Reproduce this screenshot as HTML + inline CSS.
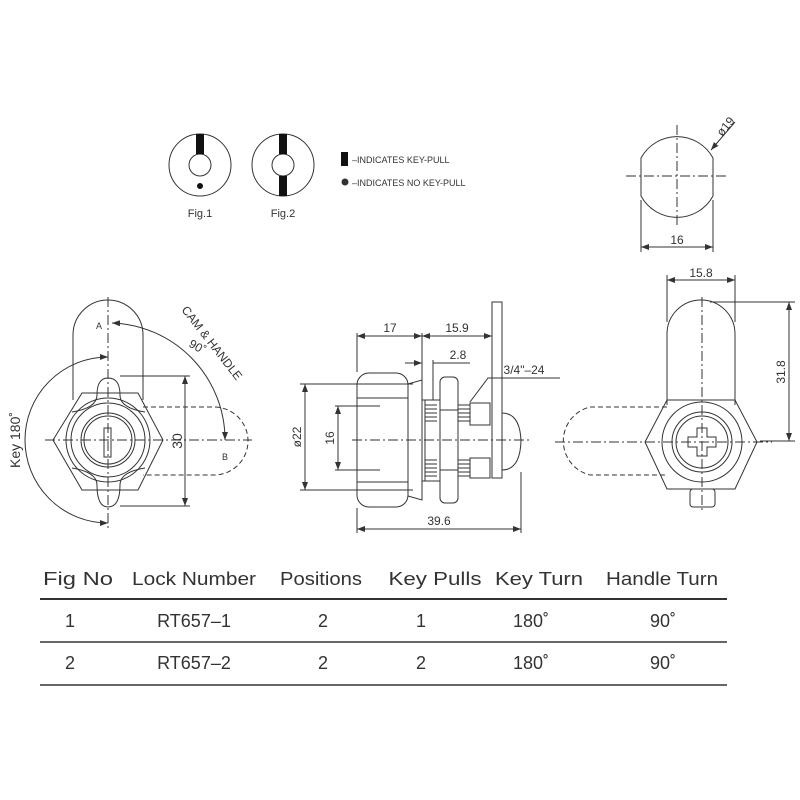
<!DOCTYPE html>
<html><head><meta charset="utf-8"><style>
html,body{margin:0;padding:0;background:#fff;}
svg{display:block;}
text{font-family:"Liberation Sans",sans-serif;fill:#333;}
</style></head><body>
<svg width="800" height="800" viewBox="0 0 800 800" xmlns="http://www.w3.org/2000/svg">
<defs>
<marker id="ar" markerWidth="8" markerHeight="6" refX="8" refY="3" orient="auto-start-reverse" markerUnits="userSpaceOnUse"><path d="M0,0 L8,3 L0,6 z" fill="#333"/></marker>
</defs>
<g fill="none" stroke="#333" stroke-width="1">
<!-- Fig1 -->
<circle cx="200" cy="165" r="31"/><circle cx="200" cy="165" r="11"/>
<rect x="196" y="134" width="8" height="20" fill="#111" stroke="none"/>
<circle cx="200" cy="186" r="3" fill="#111" stroke="none"/>
<!-- Fig2 -->
<circle cx="283" cy="165" r="31"/><circle cx="283" cy="165" r="11"/>
<rect x="279" y="134" width="8" height="20" fill="#111" stroke="none"/>
<rect x="279" y="176" width="8" height="20" fill="#111" stroke="none"/>
<rect x="341" y="152" width="7" height="14" fill="#111" stroke="none"/>
<circle cx="345" cy="182" r="3.5" fill="#333" stroke="none"/>

<!-- top right -->
<path d="M641,158 A41,41 0 0 1 713,158 L713,196 A41,41 0 0 1 641,196 Z"/>
<path d="M626,176 H728 M677,125 V228" stroke-dasharray="10,3,2,3"/>
<path d="M641,200 V252 M713,200 V252"/>
<path d="M641,247 H713" marker-start="url(#ar)" marker-end="url(#ar)"/>
<path d="M735,122 L711,150" marker-end="url(#ar)"/>

<!-- left view -->
<path d="M73,400 V335 A35,35 0 0 1 143,335 V400"/>
<path d="M53,440 L82,393 H138 L163,440 L138,490 H82 Z"/>
<circle cx="108" cy="440" r="42"/>
<circle cx="108" cy="440" r="37"/>
<circle cx="108" cy="440" r="27"/>
<circle cx="108" cy="440" r="24"/>
<path d="M97,395 Q97,378 108,378 Q120,378 120,395 Q120,408 145,412 M97,395 Q97,408 72,412 M97,485 Q97,507 108,507 Q120,507 120,485 Q120,472 145,468 M97,485 Q97,472 72,468"/>
<rect x="104" y="428" width="7" height="29"/>
<path d="M143,407 H214 A34,34 0 0 1 214,475 H143" stroke-dasharray="5,3"/>
<path d="M108,297 V528 M45,440 H252" stroke-dasharray="10,3,2,3"/>
<path d="M120,376 H190 M120,506 H190"/>
<path d="M185,376 V506" marker-start="url(#ar)" marker-end="url(#ar)"/>
<path d="M112,323 A117,117 0 0 1 225,440" marker-start="url(#ar)" marker-end="url(#ar)"/>
<path d="M108,357 A83,83 0 0 0 108,523" marker-start="url(#ar)" marker-end="url(#ar)"/>

<!-- middle view -->
<rect x="357" y="373" width="51" height="134" rx="12"/>
<path d="M357,398 H408 M357,482 H408"/>
<path d="M408,384 L422,380 V500 L408,496 Z"/>
<path d="M422,400 H440 M422,481 H440 M425,400 V481"/>
<path d="M425,405 h12 M425,409 h12 M425,413 h12 M425,417 h12 M425,421 h12 M425,460 h12 M425,464 h12 M425,468 h12 M425,472 h12 M425,476 h12"/>
<rect x="440" y="377" width="18" height="126" rx="5"/>
<path d="M440,410 H458 M440,470 H458"/>
<path d="M458,405 h12 M458,409 h12 M458,413 h12 M458,417 h12 M458,421 h12 M458,460 h12 M458,464 h12 M458,468 h12 M458,472 h12 M458,476 h12"/>
<path d="M470,403 H490 V425 H470 Z M470,458 H490 V478 H470 Z"/>
<rect x="492" y="302" width="10" height="176"/>
<path d="M502,413 Q520,413 521,441 Q520,470 502,470"/>
<path d="M352,440 H530" stroke-dasharray="10,3,2,3"/>
<path d="M357,333 V372 M422,333 V380 M492,333 V302 M433,360 V400"/>
<path d="M357,336 H422" marker-start="url(#ar)" marker-end="url(#ar)"/>
<path d="M422,336 H492" marker-start="url(#ar)" marker-end="url(#ar)"/>
<path d="M405,363 H422" marker-end="url(#ar)"/>
<path d="M433,363 H470"/>
<path d="M300,384 H413 M300,490 H413"/>
<path d="M305,384 V490" marker-start="url(#ar)" marker-end="url(#ar)"/>
<path d="M335,406 H380 M335,470 H380"/>
<path d="M338,406 V470" marker-start="url(#ar)" marker-end="url(#ar)"/>
<path d="M357,508 V533 M521,472 V533"/>
<path d="M357,529 H521" marker-start="url(#ar)" marker-end="url(#ar)"/>
<path d="M560,378 H488 L470,402"/>

<!-- right view -->
<path d="M667,405 V334 A34,34 0 0 1 735,334 V405"/>
<path d="M645,442 L667,400 H735 L757,442 L735,489 H667 Z"/>
<circle cx="702" cy="442" r="40"/>
<circle cx="702" cy="442" r="30"/>
<circle cx="702" cy="442" r="26"/>
<path d="M697,428 h10 v9 h9 v10 h-9 v9 h-10 v-9 h-9 v-10 h9 z"/>
<rect x="690" y="489" width="25" height="18" rx="3"/>
<path d="M667,407 H590 A35,35 0 0 0 590,475 H667" stroke-dasharray="5,3"/>
<path d="M702,297 V512 M555,442 H772" stroke-dasharray="10,3,2,3"/>
<path d="M667,275 V322 M735,275 V322"/>
<path d="M667,280 H735" marker-start="url(#ar)" marker-end="url(#ar)"/>
<path d="M710,302 H795 M760,441 H795"/>
<path d="M789,302 V441" marker-start="url(#ar)" marker-end="url(#ar)"/>

<!-- table lines -->
<path d="M40,599 H727" stroke-width="2"/>
<path d="M40,642 H727" stroke-width="1.5"/>
<path d="M40,685 H727" stroke-width="1.5"/>
</g>

<g font-size="11">
<text x="200" y="217" text-anchor="middle">Fig.1</text>
<text x="283" y="217" text-anchor="middle">Fig.2</text>
</g>
<g font-size="9">
<text x="352" y="163">–INDICATES KEY-PULL</text>
<text x="352" y="186">–INDICATES NO KEY-PULL</text>
<text x="96" y="329">A</text>
<text x="222" y="460">B</text>
</g>
<g font-size="12">
<text transform="translate(181,310) rotate(52)">CAM &amp; HANDLE</text>
<text transform="translate(188,346) rotate(30)">90˚</text>
<text x="677" y="244" text-anchor="middle">16</text>
<text transform="translate(722,137) rotate(-50)">ø19</text>
<text transform="translate(20,440) rotate(-90)" text-anchor="middle" font-size="14">Key 180˚</text>
<text transform="translate(182,441) rotate(-90)" text-anchor="middle" font-size="14">30</text>
<text x="390" y="332" text-anchor="middle">17</text>
<text x="457" y="332" text-anchor="middle">15.9</text>
<text x="458" y="359" text-anchor="middle">2.8</text>
<text x="524" y="374" text-anchor="middle">3/4"–24</text>
<text transform="translate(301,437) rotate(-90)" text-anchor="middle">ø22</text>
<text transform="translate(334,438) rotate(-90)" text-anchor="middle">16</text>
<text x="439" y="525" text-anchor="middle">39.6</text>
<text x="701" y="277" text-anchor="middle">15.8</text>
<text transform="translate(785,372) rotate(-90)" text-anchor="middle">31.8</text>
</g>
<g font-size="18" text-anchor="middle">
<text x="78" y="585" textLength="70" lengthAdjust="spacingAndGlyphs">Fig No</text>
<text x="194" y="585" textLength="124" lengthAdjust="spacingAndGlyphs">Lock Number</text>
<text x="321" y="585" textLength="82" lengthAdjust="spacingAndGlyphs">Positions</text>
<text x="435" y="585" textLength="93" lengthAdjust="spacingAndGlyphs">Key Pulls</text>
<text x="539" y="585" textLength="88" lengthAdjust="spacingAndGlyphs">Key Turn</text>
<text x="662" y="585" textLength="112" lengthAdjust="spacingAndGlyphs">Handle Turn</text>
<text x="70" y="627">1</text>
<text x="194" y="627">RT657–1</text>
<text x="323" y="627">2</text>
<text x="421" y="627">1</text>
<text x="531" y="627">180˚</text>
<text x="663" y="627">90˚</text>
<text x="70" y="669">2</text>
<text x="194" y="669">RT657–2</text>
<text x="323" y="669">2</text>
<text x="421" y="669">2</text>
<text x="531" y="669">180˚</text>
<text x="663" y="669">90˚</text>
</g>
</svg>
</body></html>
